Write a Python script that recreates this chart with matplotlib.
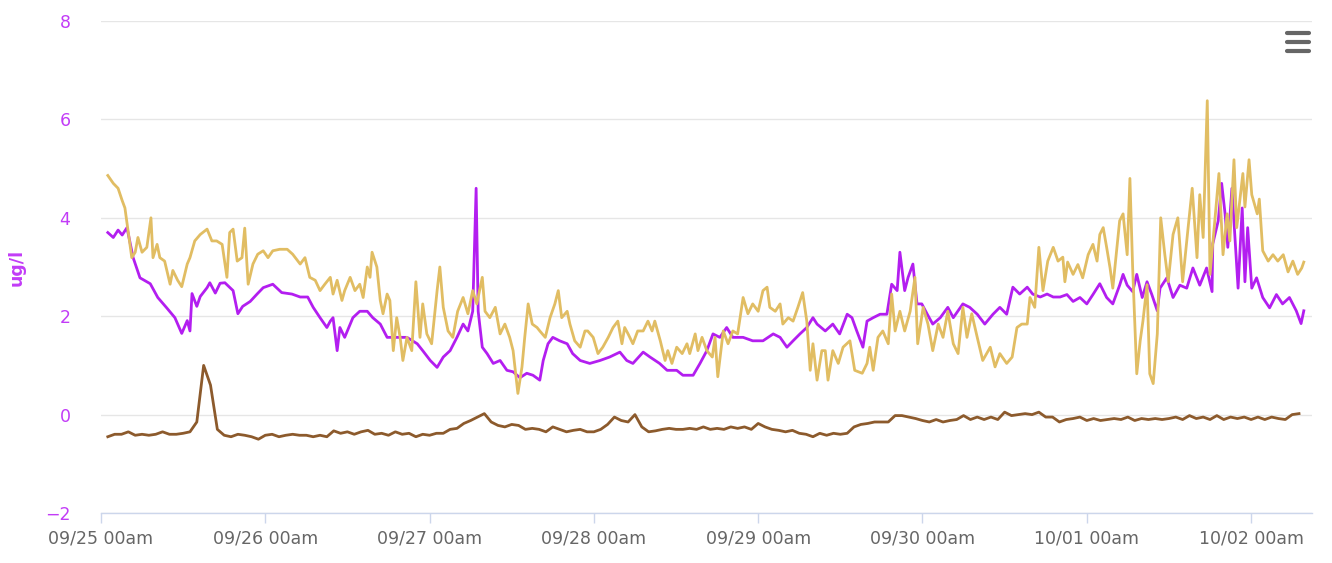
import numpy as np
import pandas as pd
import matplotlib
matplotlib.use("Agg")
import matplotlib.pyplot as plt
import matplotlib.dates as mdates
from matplotlib.lines import Line2D

# hours after 09/25 00am, values in ug/l
purple_hours = [1.0, 1.8, 2.5, 3.1, 3.8, 4.7, 5.7, 7.2, 8.3, 9.6, 10.8, 11.8, 12.6, 13.0, 13.3,
                14.0, 14.5, 15.5, 15.9, 16.7, 17.4, 18.1, 19.3, 20.0, 20.7, 21.8, 22.8, 23.7,
                25.1, 26.4, 27.9, 29.1, 30.2, 31.0, 32.0, 33.0, 33.5, 33.9, 34.5, 34.9, 35.6,
                36.8, 37.8, 38.9, 39.7, 40.8, 41.8, 43.2, 44.7, 46.2, 47.0, 48.1, 49.1, 50.0,
                51.0, 52.0, 52.9, 53.6, 54.3, 54.8, 55.1, 55.7, 56.4, 57.3, 58.3, 59.3, 60.2,
                61.2, 62.2, 63.1, 64.1, 64.6, 65.3, 66.0, 67.0, 68.1, 68.9, 70.0, 71.4, 72.9,
                74.3, 75.8, 76.8, 77.7, 79.2, 80.2, 81.6, 82.7, 84.1, 85.0, 86.5, 87.5, 88.5,
                89.4, 90.4, 91.4, 92.3, 93.8, 95.2, 96.7, 98.2, 99.2, 100.2, 101.1, 102.1,
                103.1, 104.0, 104.6, 105.8, 106.9, 107.9, 109.0, 109.7, 110.4, 111.3, 111.9,
                112.8, 113.8, 114.8, 115.5, 116.3, 116.7, 117.4, 117.9, 118.6, 119.2, 119.9,
                120.7, 121.5, 122.6, 123.7, 124.5, 125.9, 126.9, 128.0, 129.1, 130.3, 131.3,
                132.3, 133.2, 134.2, 135.3, 136.1, 137.2, 138.2, 139.1, 140.1, 141.1, 142.0,
                143.0, 144.0, 144.9, 145.9, 146.9, 147.8, 148.8, 149.3, 149.9, 150.7, 151.3,
                152.1, 152.8, 153.5, 154.3, 154.7, 155.7, 156.6, 157.6, 158.6, 159.5, 160.5,
                161.5, 162.3, 162.4, 163.2, 163.7, 164.2, 164.6, 165.2, 165.6, 166.1, 166.7,
                167.1, 167.5, 168.1, 168.8, 169.7, 170.7, 171.7, 172.6, 173.6, 174.6, 175.3,
                175.7]
purple_vals = [3.7, 3.6, 3.75, 3.65, 3.8, 3.19, 2.78, 2.66, 2.38, 2.17, 1.97, 1.65, 1.91, 1.7, 2.46,
               2.2, 2.4, 2.58, 2.68, 2.47, 2.67, 2.68, 2.52, 2.05, 2.2, 2.3, 2.45, 2.58,
               2.65, 2.48, 2.45, 2.39, 2.39, 2.18, 1.97, 1.77, 1.9, 1.97, 1.3, 1.77, 1.57,
               1.97, 2.1, 2.1, 1.97, 1.84, 1.57, 1.57, 1.57, 1.44, 1.3, 1.1, 0.96, 1.17,
               1.3, 1.57, 1.84, 1.7, 2.1, 4.6, 2.1, 1.37, 1.24, 1.04, 1.1, 0.9, 0.87,
               0.75, 0.84, 0.8, 0.7, 1.1, 1.44, 1.57, 1.5, 1.44, 1.24, 1.1, 1.04, 1.1,
               1.17, 1.27, 1.1, 1.04, 1.27, 1.17, 1.04, 0.9, 0.9, 0.8, 0.8, 1.04, 1.3,
               1.64, 1.57, 1.77, 1.57, 1.57, 1.5, 1.5, 1.64, 1.57, 1.37, 1.5, 1.64,
               1.77, 1.97, 1.84, 1.7, 1.84, 1.64, 2.04, 1.97, 1.7, 1.37, 1.9,
               1.97, 2.04, 2.04, 2.65, 2.52, 3.3, 2.52, 2.79, 3.06, 2.25, 2.25,
               2.04, 1.84, 1.97, 2.18, 1.97, 2.25, 2.18, 2.04, 1.84, 2.04, 2.18,
               2.04, 2.59, 2.45, 2.59, 2.45, 2.39, 2.45, 2.39, 2.39, 2.44, 2.3,
               2.38, 2.25, 2.44, 2.66, 2.38, 2.25, 2.63, 2.85, 2.63, 2.5, 2.85,
               2.38, 2.7, 2.44, 2.11, 2.57, 2.78, 2.38, 2.63, 2.57, 2.98, 2.63,
               2.98, 2.5, 3.47, 3.94, 4.7, 4.08, 3.4, 4.6, 3.7, 2.57, 4.2,
               2.7, 3.8, 2.57, 2.78, 2.38, 2.17, 2.44, 2.25, 2.38, 2.11, 1.85,
               2.11]

gold_hours = [1.0, 1.8, 2.5, 3.1, 3.5, 3.9, 4.5, 5.0, 5.4, 6.0, 6.7, 7.3, 7.6, 8.2, 8.6, 9.3,
              10.1, 10.5, 11.2, 11.8, 12.6, 13.0, 13.7, 14.5, 15.5, 16.2, 16.9, 17.7, 18.4,
              18.8, 19.3, 19.9, 20.6, 21.0, 21.5, 22.2, 22.9, 23.7, 24.4, 25.1, 26.1, 27.2,
              28.0, 29.1, 29.8, 30.5, 31.3, 32.0, 32.7, 33.5, 33.9, 34.5, 35.2, 35.6, 36.4,
              37.1, 37.8, 38.3, 38.9, 39.3, 39.6, 40.3, 40.8, 41.2, 41.8, 42.2, 42.7, 43.2,
              43.7, 44.1, 44.7, 45.4, 46.0, 46.6, 47.0, 47.6, 48.3, 49.1, 49.5, 50.0, 50.7,
              51.4, 52.1, 52.9, 53.6, 54.3, 54.9, 55.7, 56.1, 56.8, 57.6, 58.3, 59.0, 59.7,
              60.2, 60.9, 61.5, 61.9, 62.4, 63.0, 63.7, 64.1, 64.9, 65.6, 66.3, 66.8, 67.3,
              68.1, 68.5, 69.2, 70.0, 70.7, 71.1, 71.9, 72.6, 73.3, 74.1, 74.8, 75.5, 76.1,
              76.5, 77.0, 77.7, 78.4, 79.2, 79.9, 80.5, 80.9, 81.7, 82.4, 82.8, 83.4, 84.1,
              84.9, 85.6, 86.0, 86.8, 87.2, 87.8, 88.5, 89.3, 89.7, 90.1, 90.9, 91.6, 92.3,
              93.0, 93.8, 94.5, 95.2, 96.0, 96.7, 97.3, 97.7, 98.5, 99.2, 99.6, 100.4, 101.1,
              101.8, 102.5, 103.1, 103.6, 104.0, 104.6, 105.3, 105.8, 106.2, 106.9, 107.7,
              108.4, 109.4, 110.1, 111.2, 111.9, 112.3, 112.8, 113.5, 114.2, 115.0, 115.5,
              116.0, 116.7, 117.4, 118.2, 118.9, 119.3, 120.1, 120.8, 121.5, 122.3, 123.0,
              123.7, 124.5, 125.2, 125.9, 126.5, 127.2, 128.0, 128.8, 129.9, 130.6, 131.3,
              132.3, 133.1, 133.8, 134.5, 135.3, 135.7, 136.4, 137.0, 137.6, 138.3, 139.1,
              139.8, 140.5, 140.8, 141.2, 142.0, 142.7, 143.4, 144.2, 144.9, 145.5, 145.9,
              146.4, 146.9, 147.4, 147.8, 148.4, 148.8, 149.3, 149.9, 150.3, 150.7, 151.3,
              151.8, 152.2, 152.8, 153.2, 153.7, 154.3, 154.8, 155.4, 155.9, 156.6, 157.3,
              158.0, 158.8, 159.4, 160.1, 160.5, 161.0, 161.6, 162.0, 162.7, 163.3, 163.9,
              164.5, 164.9, 165.5, 165.9, 166.8, 167.1, 167.7, 168.1, 168.9, 169.2, 169.7,
              170.5, 171.2, 171.9, 172.7, 173.4, 174.1, 174.8, 175.4, 175.7]
gold_vals = [4.86, 4.7, 4.6, 4.35, 4.2, 3.8, 3.19, 3.3, 3.6, 3.3, 3.4, 4.0, 3.19, 3.46, 3.19, 3.12,
             2.65, 2.93, 2.73, 2.6, 3.06, 3.19, 3.53, 3.66, 3.77, 3.53, 3.53, 3.46, 2.79,
             3.7, 3.77, 3.12, 3.19, 3.79, 2.65, 3.06, 3.26, 3.33, 3.19, 3.33, 3.36, 3.36,
             3.26, 3.06, 3.19, 2.79, 2.73, 2.52, 2.65, 2.79, 2.45, 2.73, 2.32, 2.52, 2.79,
             2.52, 2.65, 2.38, 3.0, 2.79, 3.3, 3.0, 2.32, 2.05, 2.45, 2.32, 1.3, 1.97,
             1.57, 1.1, 1.57, 1.3, 2.7, 1.57, 2.25, 1.64, 1.44, 2.52, 3.0, 2.18, 1.7,
             1.57, 2.1, 2.38, 2.05, 2.52, 2.25, 2.79, 2.1, 1.97, 2.18, 1.64, 1.84, 1.57,
             1.3, 0.43, 0.97, 1.57, 2.25, 1.84, 1.77, 1.7, 1.57, 1.97, 2.25, 2.52, 1.97,
             2.1, 1.84, 1.5, 1.37, 1.7, 1.7, 1.57, 1.24, 1.37, 1.57, 1.77, 1.9, 1.44,
             1.77, 1.64, 1.44, 1.7, 1.7, 1.9, 1.7, 1.9, 1.5, 1.1, 1.3, 1.04, 1.37,
             1.24, 1.44, 1.24, 1.64, 1.3, 1.57, 1.3, 1.17, 1.57, 0.77, 1.7, 1.44, 1.7,
             1.64, 2.38, 2.05, 2.25, 2.1, 2.52, 2.59, 2.18, 2.1, 2.25, 1.84, 1.97, 1.9,
             2.18, 2.48, 1.9, 0.9, 1.44, 0.7, 1.3, 1.3, 0.7, 1.3, 1.04,
             1.37, 1.5, 0.9, 0.84, 1.04, 1.37, 0.9, 1.57, 1.7, 1.44, 2.45,
             1.7, 2.1, 1.7, 2.1, 2.79, 1.44, 2.18, 1.84, 1.3, 1.84, 1.57,
             2.1, 1.44, 1.24, 2.18, 1.57, 2.05, 1.57, 1.1, 1.37, 0.97, 1.24,
             1.04, 1.17, 1.77, 1.84, 1.84, 2.38, 2.18, 3.4, 2.52, 3.12, 3.4,
             3.12, 3.2, 2.7, 3.1, 2.85, 3.05, 2.78, 3.25, 3.46, 3.12, 3.66,
             3.8, 3.4, 2.98, 2.57, 3.4, 3.94, 4.08, 3.25, 4.8, 2.98, 0.83,
             1.5, 1.9, 2.64, 0.83, 0.63, 1.64, 4.0, 3.25, 2.7, 3.66, 4.0,
             2.7, 3.8, 4.6, 3.19, 4.47, 3.6, 6.38, 2.85, 3.94, 4.9, 3.25,
             4.08, 3.53, 5.18, 3.8, 4.9, 4.22, 5.18, 4.47, 4.08, 4.38, 3.33,
             3.12, 3.25, 3.12, 3.25, 2.9, 3.12, 2.85, 2.98, 3.1]

# hourly, from 09/25 01am
brown_vals = [-0.45, -0.4, -0.4, -0.35, -0.42, -0.4, -0.42, -0.4, -0.35, -0.4,
              -0.4, -0.38, -0.35, -0.15, 1.0, 0.6, -0.3, -0.42, -0.45, -0.4,
              -0.42, -0.45, -0.5, -0.42, -0.4, -0.45, -0.42, -0.4, -0.42, -0.42,
              -0.45, -0.42, -0.45, -0.33, -0.38, -0.35, -0.4, -0.35, -0.32, -0.4,
              -0.38, -0.42, -0.35, -0.4, -0.38, -0.45, -0.4, -0.42, -0.38, -0.38,
              -0.3, -0.28, -0.18, -0.12, -0.05, 0.02, -0.15, -0.22, -0.25, -0.2,
              -0.22, -0.3, -0.28, -0.3, -0.35, -0.25, -0.3, -0.35, -0.32, -0.3,
              -0.35, -0.35, -0.3, -0.2, -0.05, -0.12, -0.15, 0.0, -0.25, -0.35,
              -0.33, -0.3, -0.28, -0.3, -0.3, -0.28, -0.3, -0.25, -0.3, -0.28,
              -0.3, -0.25, -0.28, -0.25, -0.3, -0.18, -0.25, -0.3, -0.32, -0.35,
              -0.32, -0.38, -0.4, -0.45, -0.38, -0.42, -0.38, -0.4, -0.38, -0.25,
              -0.2, -0.18, -0.15, -0.15, -0.15, -0.02, -0.02, -0.05, -0.08, -0.12,
              -0.15, -0.1, -0.15, -0.12, -0.1, -0.02, -0.1, -0.05, -0.1, -0.05,
              -0.1, 0.05, -0.02, 0.0, 0.02, 0.0, 0.05, -0.05, -0.05, -0.15,
              -0.1, -0.08, -0.05, -0.12, -0.08, -0.12, -0.1, -0.08, -0.1, -0.05,
              -0.12, -0.08, -0.1, -0.08, -0.1, -0.08, -0.05, -0.1, -0.02, -0.08,
              -0.05, -0.1, -0.02, -0.1, -0.05, -0.08, -0.05, -0.1, -0.05, -0.1,
              -0.05, -0.08, -0.1, 0.0, 0.02]

day_ticks = ["2019-09-25", "2019-09-26", "2019-09-27", "2019-09-28",
             "2019-09-29", "2019-09-30", "2019-10-01", "2019-10-02"]
y_ticks = [-2, 0, 2, 4, 6, 8]

t0 = pd.Timestamp("2019-09-25 00:00")
purple_t = t0 + pd.to_timedelta(purple_hours, unit="h")
gold_t = t0 + pd.to_timedelta(gold_hours, unit="h")
brown_t = pd.date_range(t0 + pd.Timedelta(hours=1), periods=len(brown_vals), freq="h")

fig = plt.figure(figsize=(13.32, 5.63), dpi=100)
ax = fig.add_axes([0.0758, 0.0888, 0.9092, 0.8739])

ax.plot(purple_t, purple_vals, color="#b31ef0", lw=2.0, zorder=3)
ax.plot(gold_t, gold_vals, color="#e1bd63", lw=2.0, zorder=4)
ax.plot(brown_t, brown_vals, color="#8c5a2c", lw=2.0, zorder=5)

ax.set_xlim(t0, t0 + pd.Timedelta(hours=176.9))
ax.set_ylim(-2, 8)
ax.set_yticks(y_ticks)
ax.set_xticks(pd.to_datetime(day_ticks))
ax.xaxis.set_major_formatter(mdates.DateFormatter("%m/%d %Ham"))

ax.grid(axis="y", color="#e6e6e6", lw=1)
ax.set_axisbelow(True)
for s in ["top", "right", "left"]:
    ax.spines[s].set_visible(False)
ax.spines["bottom"].set_color("#ccd6eb")
ax.spines["bottom"].set_linewidth(1)

ax.tick_params(axis="x", colors="#ccd6eb", length=7.2, width=1, pad=5,
               labelcolor="#666666", labelsize=12.5)
ax.tick_params(axis="y", length=0, pad=22, labelcolor="#c23cf7", labelsize=12.5)

ax.set_ylabel("ug/l", color="#c23cf7", fontsize=12.5, fontweight="bold")
ax.yaxis.set_label_coords(-0.062, 0.5)

# menu icon, top right
for yy in [0.9419, 0.9259, 0.9099]:
    fig.add_artist(Line2D([0.9665, 0.9825], [yy, yy], transform=fig.transFigure,
                          color="#666666", lw=3.0, solid_capstyle="round"))

fig.savefig("out.png", dpi=100)
